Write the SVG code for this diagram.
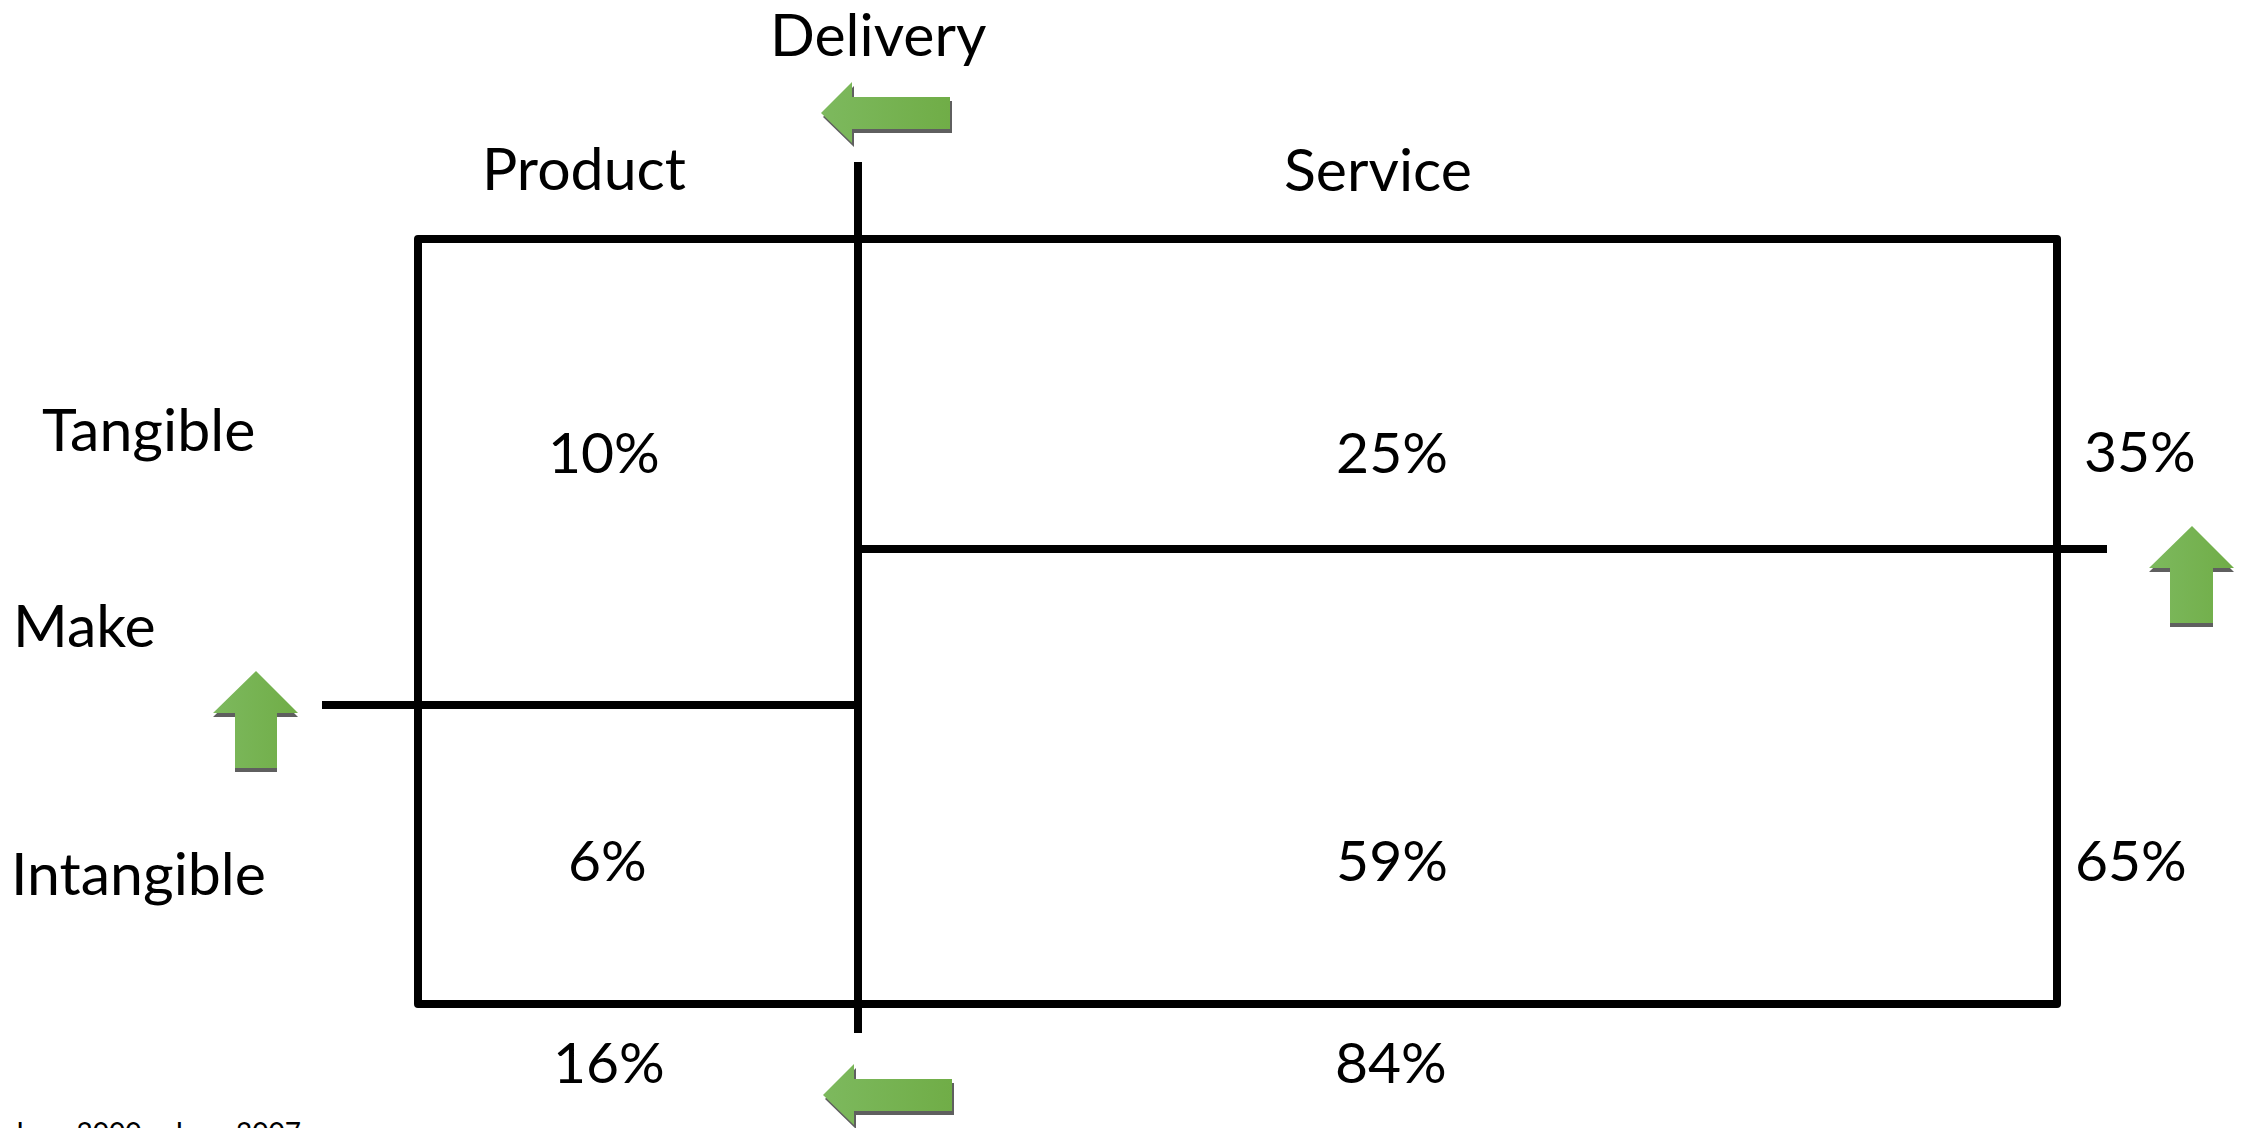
<svg xmlns="http://www.w3.org/2000/svg" width="2243" height="1128" viewBox="0 0 2243 1128">
<defs>
<linearGradient id="g" x1="0" y1="0" x2="1" y2="0">
<stop offset="0" stop-color="#7db95e"/>
<stop offset="1" stop-color="#70ad47"/>
</linearGradient>
</defs>
<style>
.t{font-family:Lato,"Liberation Sans",sans-serif;font-size:57px;fill:#000}
.w{font-size:59px}
.m{text-anchor:middle}
.ln{stroke:#000;stroke-width:8;fill:none;stroke-linejoin:round}
.ar{fill:url(#g)}
.sh{fill:#5f5f5f}
.src{font-family:Lato,"Liberation Sans",sans-serif;font-size:28px;fill:#000}
</style>
<rect width="2243" height="1128" fill="#fff"/>
<g id="connectors">
<rect class="ln" x="418" y="239" width="1639" height="765"/>
<line class="ln" x1="858" y1="162" x2="858" y2="1033"/>
<line class="ln" x1="858" y1="549" x2="2107" y2="549"/>
<line class="ln" x1="322" y1="705" x2="858" y2="705"/>
</g>
<g id="arrow-top">
<polygon class="sh" points="823,117 854,86 854,101 952,101 952,133 854,133 854,147"/>
<polygon class="ar" points="821,113 852,82 852,97 950,97 950,129 852,129 852,143"/>
</g>
<g id="arrow-bottom">
<polygon class="sh" points="825,1099 856,1068 856,1083 954,1083 954,1115 856,1115 856,1129"/>
<polygon class="ar" points="823,1095 854,1064 854,1079 952,1079 952,1111 854,1111 854,1125"/>
</g>
<g id="arrow-left">
<polygon class="sh" points="256,675 298,717 277,717 277,772 235,772 235,717 213,717"/>
<polygon class="ar" points="256,671 298,713 277,713 277,768 235,768 235,713 213,713"/>
</g>
<g id="arrow-right">
<polygon class="sh" points="2192,530 2234,572 2213,572 2213,627 2170,627 2170,572 2149,572"/>
<polygon class="ar" points="2192,526 2234,568 2213,568 2213,623 2170,623 2170,568 2149,568"/>
</g>
<g id="labels">
<text class="t w" x="770" y="56">Delivery</text>
<text class="t w" x="482" y="190">Product</text>
<text class="t w" x="1284" y="191">Service</text>
<text class="t w" x="42" y="451">Tangible</text>
<text class="t w" x="13" y="647">Make</text>
<text class="t w" x="11" y="895">Intangible</text>
</g>
<g id="values">
<text class="t" x="548" y="473">10%</text>
<text class="t m" x="1392" y="473">25%</text>
<text class="t" x="2084" y="472">35%</text>
<text class="t" x="568" y="881">6%</text>
<text class="t m" x="1392" y="881">59%</text>
<text class="t" x="2075" y="881">65%</text>
<text class="t" x="553" y="1083">16%</text>
<text class="t" x="1335" y="1083">84%</text>
</g>
<text class="src" x="12" y="1143">June 2000 – June 2007</text>
</svg>
